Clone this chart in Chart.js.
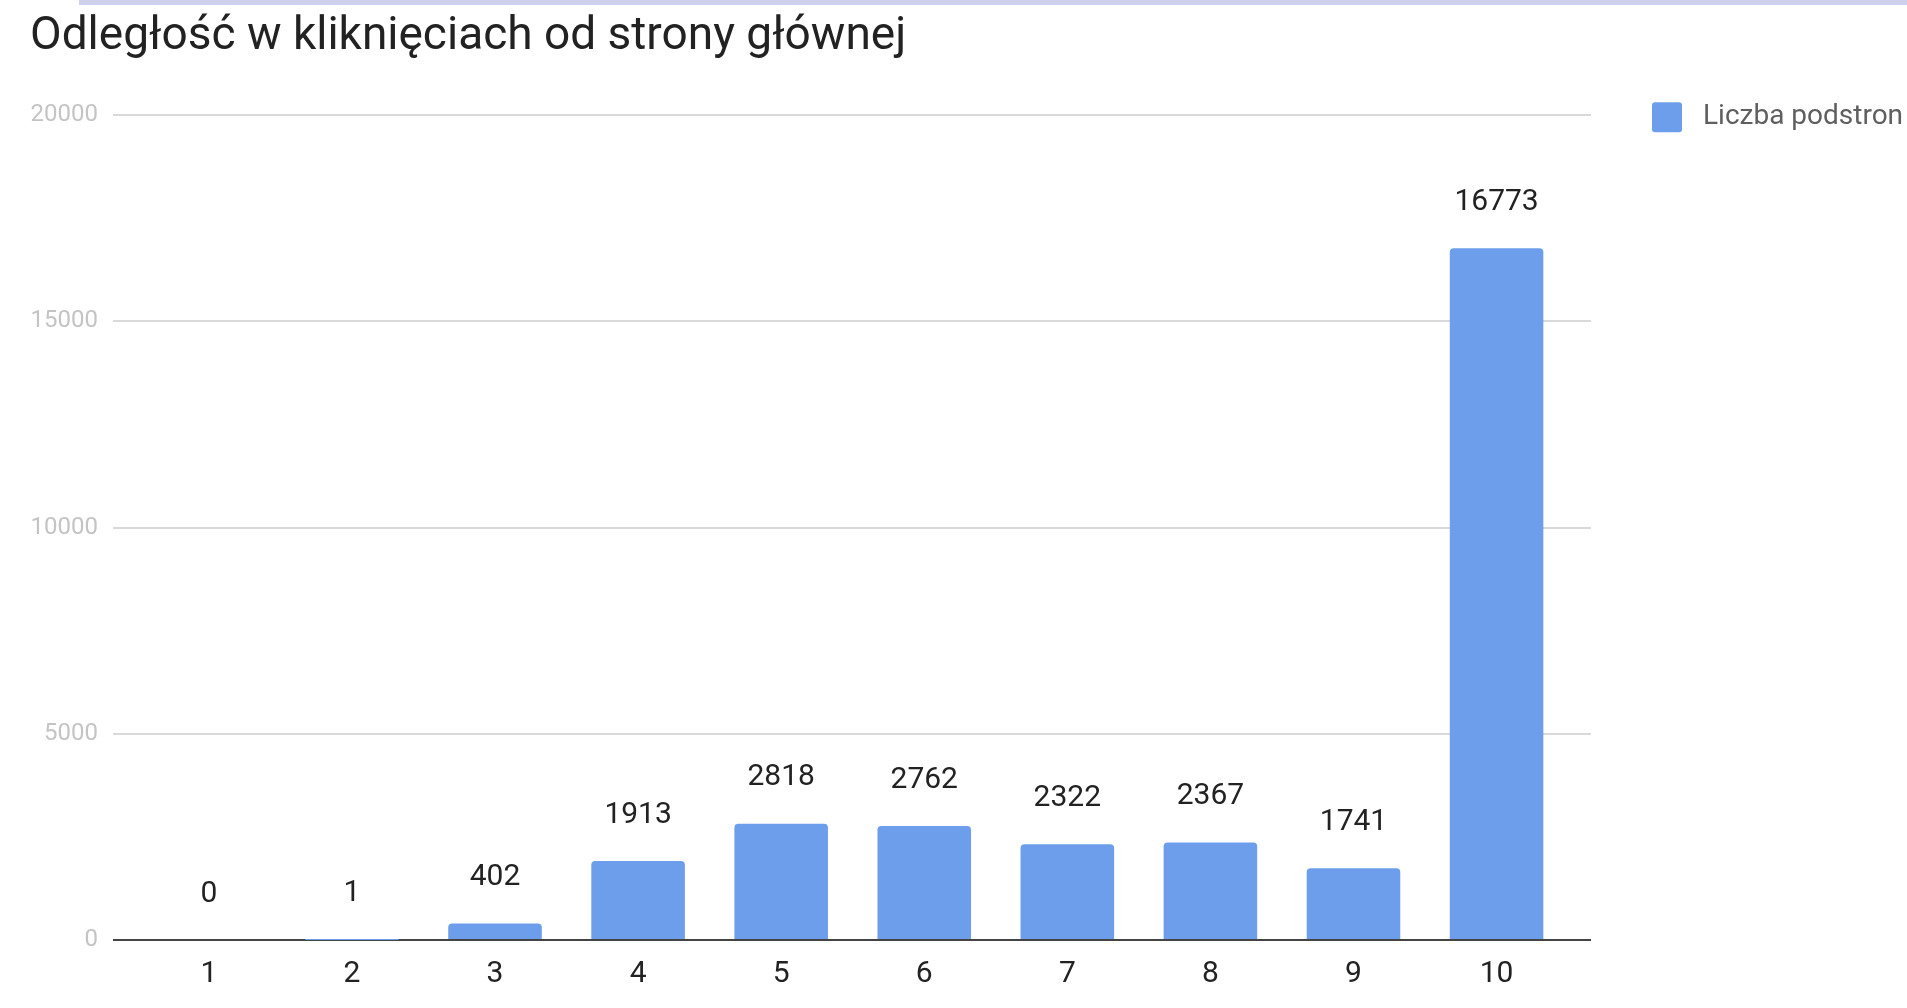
<!DOCTYPE html>
<html>
<head>
<meta charset="utf-8">
<script src="https://cdn.jsdelivr.net/npm/chart.js"></script>
<style>
  html, body { margin: 0; padding: 0; background: #fff; overflow: hidden; }
  .pasek { position: absolute; left: 79px; top: 0; right: 0; height: 5px; background: #cdd1ec; }
  #wrap { position: absolute; left: 0; top: 0; width: 1907px; height: 1008px; }
</style>
</head>
<body>
<div class="pasek"></div>
<div id="wrap"><canvas id="wykres"></canvas></div>
<script>
// ------ Dane ------
const kategorie = ["1", "2", "3", "4", "5", "6", "7", "8", "9", "10"];
const liczbaPodstron = [0, 1, 402, 1913, 2818, 2762, 2322, 2367, 1741, 16773];
const tickiY = [0, 5000, 10000, 15000, 20000];

const NIEBIESKI = "#6d9eeb";

// etykiety z wartościami nad słupkami
const etykietyWartosci = {
  id: "etykietyWartosci",
  afterDatasetsDraw(chart) {
    const ctx = chart.ctx;
    const meta = chart.getDatasetMeta(0);
    ctx.save();
    ctx.font = "30px Roboto";
    ctx.fillStyle = "#222";
    ctx.textAlign = "center";
    ctx.textBaseline = "middle";
    meta.data.forEach((bar, i) => {
      ctx.fillText(String(liczbaPodstron[i]), bar.x, bar.y - 46);
    });
    ctx.restore();
  },
};

// legenda po prawej (ucięta przy krawędzi jak w oryginale)
const legendaProsta = {
  id: "legendaProsta",
  afterDraw(chart) {
    const ctx = chart.ctx;
    const ds = chart.data.datasets[0];
    const x = chart.chartArea.right + 61;
    const y = chart.chartArea.top + 2;
    ctx.save();
    ctx.fillStyle = ds.backgroundColor;
    ctx.beginPath();
    ctx.roundRect(x, y - 15, 30, 30, 3);
    ctx.fill();
    ctx.font = "28px Roboto";
    ctx.fillStyle = "#5f5f5f";
    ctx.textBaseline = "middle";
    ctx.fillText(ds.label, x + 51, y);
    ctx.restore();
  },
};

new Chart(document.getElementById("wykres"), {
  type: "bar",
  data: {
    datasets: [{
      label: "Liczba podstron",
      data: liczbaPodstron.map((v, i) => ({ x: Number(kategorie[i]), y: v })),
      backgroundColor: NIEBIESKI,
      borderRadius: 4,
      borderSkipped: "start",
      barPercentage: 0.654,
      categoryPercentage: 1,
    }],
  },
  options: {
    responsive: true,
    maintainAspectRatio: false,
    animation: false,
    layout: { padding: { left: 30, right: 316, top: 10, bottom: 0 } },
    plugins: {
      legend: { display: false },
      tooltip: { enabled: false },
      title: {
        display: true,
        text: "Odległość w kliknięciach od strony głównej",
        align: "start",
        color: "#222",
        font: { family: "Roboto", size: 46, weight: "normal" },
        padding: { top: 0, bottom: 50 },
      },
    },
    scales: {
      x: {
        type: "linear",
        offset: false,
        min: 0.33,
        max: 10.66,
        afterBuildTicks: (axis) => { axis.ticks = kategorie.map(k => ({ value: Number(k) })); },
        grid: { display: false, drawTicks: false },
        border: { display: false },
        ticks: {
          color: "#222",
          font: { family: "Roboto", size: 30 },
          padding: 16,
          maxRotation: 0,
          callback: (v) => kategorie[v - 1],
        },
      },
      y: {
        min: 0,
        max: 20000,
        afterBuildTicks: (axis) => { axis.ticks = tickiY.map(v => ({ value: v })); },
        afterFit: (axis) => { axis.width = 83; },
        border: { display: false },
        grid: {
          drawTicks: false,
          lineWidth: 2,
          color: (c) => (c.tick && c.tick.value === 0 ? "#444" : "#d9d9d9"),
        },
        ticks: {
          color: "#c4c4c4",
          font: { family: "Roboto", size: 24 },
          padding: 15,
          callback: (v) => String(v),
        },
      },
    },
  },
  plugins: [etykietyWartosci, legendaProsta],
});
</script>
</body>
</html>
